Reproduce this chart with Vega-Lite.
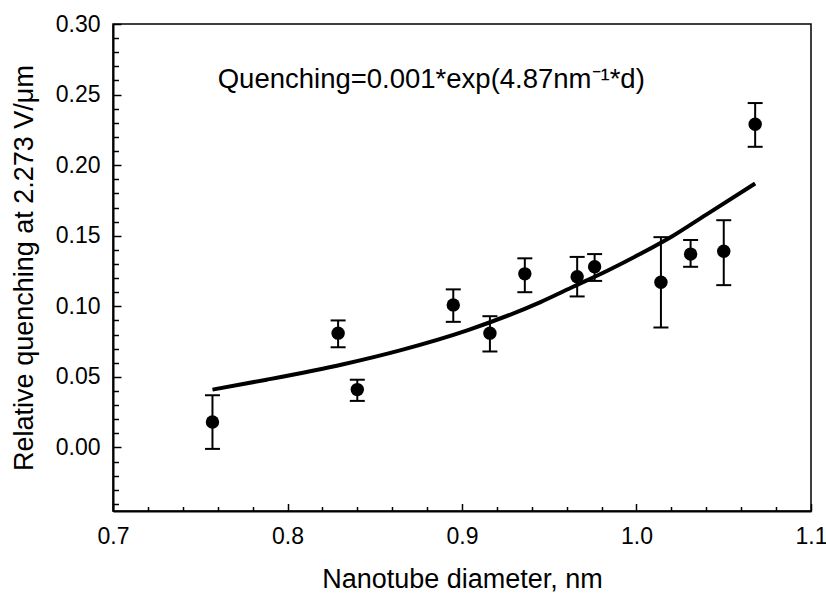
{
  "$schema": "https://vega.github.io/schema/vega-lite/v6.json",
  "width": 698,
  "height": 487,
  "autosize": {"type": "none"},
  "padding": {"left": 113, "top": 24, "right": 15, "bottom": 82},
  "background": "white",
  "config": {
    "font": "Liberation Sans",
    "view": {"stroke": "black", "strokeWidth": 1.5},
    "axis": {
      "labelFont": "Liberation Sans",
      "titleFont": "Liberation Sans",
      "labelColor": "black",
      "titleColor": "black",
      "grid": false,
      "domainColor": "black",
      "tickColor": "black",
      "labelFontSize": 23,
      "titleFontSize": 27,
      "titleFontWeight": "normal",
      "domainWidth": 2,
      "tickWidth": 1.5
    }
  },
  "datasets": {
    "obs": [
      {"d": 0.757, "q": 0.018, "lo": -0.001, "hi": 0.037},
      {"d": 0.829, "q": 0.081, "lo": 0.071, "hi": 0.090},
      {"d": 0.840, "q": 0.041, "lo": 0.033, "hi": 0.048},
      {"d": 0.895, "q": 0.101, "lo": 0.089, "hi": 0.112},
      {"d": 0.916, "q": 0.081, "lo": 0.068, "hi": 0.093},
      {"d": 0.936, "q": 0.123, "lo": 0.110, "hi": 0.134},
      {"d": 0.966, "q": 0.121, "lo": 0.107, "hi": 0.135},
      {"d": 0.976, "q": 0.128, "lo": 0.118, "hi": 0.137},
      {"d": 1.014, "q": 0.117, "lo": 0.085, "hi": 0.149},
      {"d": 1.031, "q": 0.137, "lo": 0.128, "hi": 0.147},
      {"d": 1.050, "q": 0.139, "lo": 0.115, "hi": 0.161},
      {"d": 1.068, "q": 0.229, "lo": 0.213, "hi": 0.244}
    ],
    "fit": [
      {"d": 0.757, "q": 0.041},
      {"d": 0.788, "q": 0.048},
      {"d": 0.832, "q": 0.059},
      {"d": 0.865, "q": 0.069},
      {"d": 0.903, "q": 0.083},
      {"d": 0.945, "q": 0.103},
      {"d": 0.964, "q": 0.114},
      {"d": 0.983, "q": 0.125},
      {"d": 1.002, "q": 0.137},
      {"d": 1.021, "q": 0.150},
      {"d": 1.040, "q": 0.165},
      {"d": 1.068, "q": 0.187}
    ],
    "note": [
      {"d": 0.76, "q": 0.255, "label": "Quenching=0.001*exp(4.87nm⁻¹*d)"}
    ]
  },
  "layer": [
    {
      "data": {"name": "fit"},
      "mark": {"type": "line", "color": "black", "strokeWidth": 4, "interpolate": "monotone"},
      "encoding": {
        "x": {
          "field": "d", "type": "quantitative",
          "scale": {"domain": [0.7, 1.1], "nice": false, "zero": false},
          "axis": {
            "orient": "bottom", "values": [0.7, 0.8, 0.9, 1.0, 1.1], "format": ".1f",
            "ticks": false, "domain": true, "labelPadding": 14, "labelFlush": false,
            "title": "Nanotube diameter, nm", "titlePadding": 18
          }
        },
        "y": {
          "field": "q", "type": "quantitative",
          "scale": {"domain": [-0.045, 0.3], "nice": false, "zero": false},
          "axis": {
            "orient": "left", "values": [0, 0.05, 0.1, 0.15, 0.2, 0.25, 0.3], "format": ".2f",
            "ticks": false, "domain": true, "labelPadding": 13, "labelFlush": false,
            "title": "Relative quenching at 2.273 V/μm", "titlePadding": 17
          }
        }
      }
    },
    {
      "data": {"name": "obs"},
      "mark": {"type": "rule", "color": "black", "strokeWidth": 2},
      "encoding": {
        "x": {
          "field": "d", "type": "quantitative",
          "scale": {"domain": [0.7, 1.1], "nice": false, "zero": false},
          "axis": {
            "orient": "bottom", "values": [0.7, 0.8, 0.9, 1.0, 1.1],
            "labels": false, "domain": false, "ticks": true, "tickSize": -7.5, "title": null
          }
        },
        "y": {
          "field": "lo", "type": "quantitative",
          "scale": {"domain": [-0.045, 0.3], "nice": false, "zero": false},
          "axis": {
            "orient": "left", "values": [0, 0.05, 0.1, 0.15, 0.2, 0.25, 0.3],
            "labels": false, "domain": false, "ticks": true, "tickSize": -8, "title": null
          }
        },
        "y2": {"field": "hi"}
      }
    },
    {
      "data": {"name": "obs"},
      "mark": {"type": "tick", "color": "black", "orient": "horizontal", "size": 15, "thickness": 2, "opacity": 1},
      "encoding": {
        "x": {
          "field": "d", "type": "quantitative",
          "scale": {"domain": [0.7, 1.1], "nice": false, "zero": false},
          "axis": {
            "orient": "bottom",
            "values": [0.72, 0.74, 0.76, 0.78, 0.82, 0.84, 0.86, 0.88, 0.92, 0.94, 0.96, 0.98, 1.02, 1.04, 1.06, 1.08],
            "labels": false, "domain": false, "ticks": true, "tickSize": -4.5, "title": null
          }
        },
        "y": {
          "field": "hi", "type": "quantitative",
          "scale": {"domain": [-0.045, 0.3], "nice": false, "zero": false},
          "axis": {
            "orient": "left",
            "values": [-0.04, -0.03, -0.02, -0.01, 0.01, 0.02, 0.03, 0.04, 0.06, 0.07, 0.08, 0.09, 0.11, 0.12, 0.13, 0.14, 0.16, 0.17, 0.18, 0.19, 0.21, 0.22, 0.23, 0.24, 0.26, 0.27, 0.28, 0.29],
            "labels": false, "domain": false, "ticks": true, "tickSize": -5.5, "title": null
          }
        }
      }
    },
    {
      "data": {"name": "obs"},
      "mark": {"type": "tick", "color": "black", "orient": "horizontal", "size": 15, "thickness": 2, "opacity": 1},
      "encoding": {
        "x": {"field": "d", "type": "quantitative", "scale": {"domain": [0.7, 1.1], "nice": false, "zero": false}, "axis": null},
        "y": {"field": "lo", "type": "quantitative", "scale": {"domain": [-0.045, 0.3], "nice": false, "zero": false}, "axis": null}
      }
    },
    {
      "data": {"name": "obs"},
      "mark": {"type": "circle", "color": "black", "size": 180, "opacity": 1},
      "encoding": {
        "x": {"field": "d", "type": "quantitative", "scale": {"domain": [0.7, 1.1], "nice": false, "zero": false}, "axis": null},
        "y": {"field": "q", "type": "quantitative", "scale": {"domain": [-0.045, 0.3], "nice": false, "zero": false}, "axis": null}
      }
    },
    {
      "data": {"name": "note"},
      "mark": {"type": "text", "align": "left", "baseline": "alphabetic", "fontSize": 27.5, "font": "Liberation Sans", "color": "black"},
      "encoding": {
        "x": {"field": "d", "type": "quantitative", "scale": {"domain": [0.7, 1.1], "nice": false, "zero": false}, "axis": null},
        "y": {"field": "q", "type": "quantitative", "scale": {"domain": [-0.045, 0.3], "nice": false, "zero": false}, "axis": null},
        "text": {"field": "label"}
      }
    }
  ],
  "resolve": {"axis": {"x": "independent", "y": "independent"}}
}
